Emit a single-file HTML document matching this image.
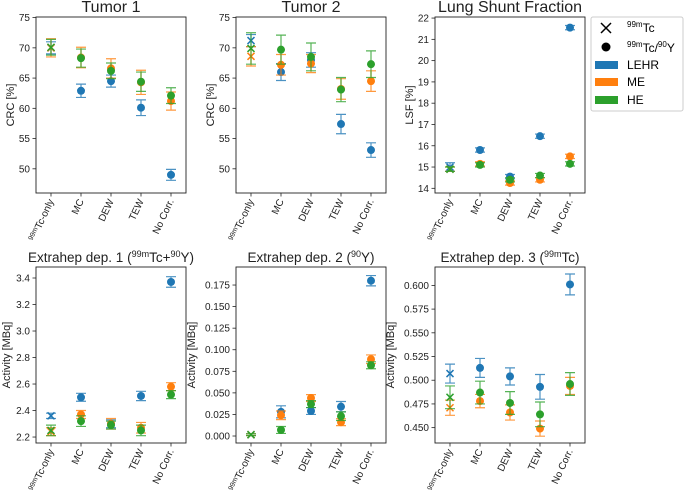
<!DOCTYPE html>
<html><head><meta charset="utf-8">
<style>
body{margin:0;background:#fff;}
svg{font-family:"Liberation Sans","DejaVu Sans",sans-serif;display:block;}
</style></head>
<body>
<svg id="fig" width="685" height="498" viewBox="0 0 685 498" xmlns="http://www.w3.org/2000/svg">
<g id="legend">
  <rect x="591" y="17" width="92" height="94" fill="#fff" stroke="#ccc" rx="2"/>
  <g>
    <path d="M601,23 L611,33 M611,23 L601,33" stroke="#000" stroke-width="1.5"/>
    <text x="627" y="32" font-size="12"><tspan font-size="8" dy="-5">99m</tspan><tspan dy="5">Tc</tspan></text>
  </g>
  <g>
    <circle cx="606" cy="47" r="4.5" fill="#000"/>
    <text x="627" y="52" font-size="12"><tspan font-size="8" dy="-5">99m</tspan><tspan dy="5">Tc/</tspan><tspan font-size="8" dy="-5">90</tspan><tspan dy="5">Y</tspan></text>
  </g>
  <g><rect x="595" y="61" width="23" height="8" fill="#1f77b4"/><text x="627" y="69" font-size="12">LEHR</text></g>
  <g><rect x="595" y="78" width="23" height="8" fill="#ff7f0e"/><text x="627" y="86" font-size="12">ME</text></g>
  <g><rect x="595" y="96" width="23" height="8" fill="#2ca02c"/><text x="627" y="104" font-size="12">HE</text></g>
</g>
</svg>
<script>
const categories = ["99mTc-only","MC","DEW","TEW","No Corr."];
const collimators = ["LEHR","ME","HE"];
// Tumor 1
const t1LEHR=[70.0,62.9,64.5,60.1,49.0], t1LEHRerr=[1.0,1.1,1.0,1.3,0.9];
const t1ME=[70.0,68.4,66.6,64.3,61.2], t1MEerr=[1.5,1.7,1.6,2.0,1.5];
const t1HE=[70.1,68.3,66.2,64.4,62.1], t1HEerr=[1.3,1.5,1.3,1.6,1.3];
// Tumor 2
const t2LEHR=[71.2,66.0,68.0,57.4,53.1], t2LEHRerr=[1.0,1.4,1.2,1.6,1.2];
const t2ME=[68.6,67.2,67.4,63.2,64.5], t2MEerr=[1.6,1.7,1.5,1.7,1.7];
const t2HE=[69.9,69.7,68.5,63.1,67.3], t2HEerr=[2.6,2.4,2.3,2.0,2.2];
// LSF
const lsfLEHR=[15.0,15.8,14.55,16.45,21.55], lsfLEHRerr=[0.2,0.1,0.1,0.1,0.1];
const lsfME=[14.9,15.15,14.25,14.4,15.5], lsfMEerr=[0.1,0.1,0.1,0.1,0.1];
const lsfHE=[14.9,15.1,14.4,14.6,15.15], lsfHEerr=[0.1,0.1,0.1,0.1,0.1];
// Extrahep 1
const e1LEHR=[2.36,2.50,2.30,2.51,3.37], e1LEHRerr=[0.02,0.03,0.03,0.035,0.04];
const e1ME=[2.24,2.37,2.30,2.27,2.58], e1MEerr=[0.03,0.03,0.04,0.04,0.03];
const e1HE=[2.25,2.32,2.29,2.25,2.52], e1HEerr=[0.04,0.04,0.03,0.04,0.03];
// Extrahep 2
const e2LEHR=[0.0015,0.028,0.029,0.034,0.180], e2LEHRerr=[0.001,0.007,0.004,0.006,0.006];
const e2ME=[0.0015,0.024,0.044,0.016,0.089], e2MEerr=[0.001,0.005,0.004,0.004,0.005];
const e2HE=[0.0015,0.007,0.037,0.023,0.082], e2HEerr=[0.001,0.004,0.004,0.005,0.004];
// Extrahep 3
const e3LEHR=[0.507,0.513,0.504,0.493,0.601], e3LEHRerr=[0.010,0.010,0.009,0.013,0.011];
const e3ME=[0.471,0.478,0.466,0.449,0.494], e3MEerr=[0.008,0.007,0.008,0.008,0.009];
const e3HE=[0.482,0.487,0.476,0.464,0.496], e3HEerr=[0.012,0.012,0.012,0.013,0.012];

const t1Ticks=[50,55,60,65,70,75], t2Ticks=[50,55,60,65,70,75];
const lsfTicks=[14,15,16,17,18,19,20,21,22];
const e1Ticks=[2.2,2.4,2.6,2.8,3.0,3.2,3.4];
const e2Ticks=[0,0.025,0.05,0.075,0.1,0.125,0.15,0.175];
const e3Ticks=[0.45,0.475,0.5,0.525,0.55,0.575,0.6];

const NS="http://www.w3.org/2000/svg";
const svg=document.getElementById('fig');
const colors=["#1f77b4","#ff7f0e","#2ca02c"];
function mk(tag,attrs,parent){const e=document.createElementNS(NS,tag);for(const k in attrs)e.setAttribute(k,attrs[k]);parent.appendChild(e);return e;}

const panels=[
 {name:"tumor-1",title:"Tumor 1",x0:36,y0:17,ylab:"CRC [%]",ymin:46.0,ymax:75.1,ticks:t1Ticks,dec:0,series:[[t1LEHR,t1LEHRerr],[t1ME,t1MEerr],[t1HE,t1HEerr]]},
 {name:"tumor-2",title:"Tumor 2",x0:236,y0:17,ylab:"CRC [%]",ymin:46.0,ymax:75.1,ticks:t2Ticks,dec:0,series:[[t2LEHR,t2LEHRerr],[t2ME,t2MEerr],[t2HE,t2HEerr]]},
 {name:"lung-shunt",title:"Lung Shunt Fraction",x0:435,y0:17,ylab:"LSF [%]",ymin:13.78,ymax:22.05,ticks:lsfTicks,dec:0,series:[[lsfLEHR,lsfLEHRerr],[lsfME,lsfMEerr],[lsfHE,lsfHEerr]]},
 {name:"extrahep-1",title:"Extrahep dep. 1",sup:["99m","Tc+","90","Y)"],x0:36,y0:267,ylab:"Activity [MBq]",ymin:2.155,ymax:3.483,ticks:e1Ticks,dec:1,series:[[e1LEHR,e1LEHRerr],[e1ME,e1MEerr],[e1HE,e1HEerr]]},
 {name:"extrahep-2",title:"Extrahep dep. 2",sup:["90","Y)"],x0:236,y0:267,ylab:"Activity [MBq]",ymin:-0.0081,ymax:0.1959,ticks:e2Ticks,dec:3,series:[[e2LEHR,e2LEHRerr],[e2ME,e2MEerr],[e2HE,e2HEerr]]},
 {name:"extrahep-3",title:"Extrahep dep. 3",sup:["99m","Tc)"],x0:435,y0:267,ylab:"Activity [MBq]",ymin:0.4338,ymax:0.6194,ticks:e3Ticks,dec:3,series:[[e3LEHR,e3LEHRerr],[e3ME,e3MEerr],[e3HE,e3HEerr]]}
];
const W=150,H=176;
panels.forEach(p=>{
  const g=mk('g',{},svg);
  
  
  const xs=i=>p.x0+W*(i+0.5)/5;
  const ys=v=>p.y0+H*(p.ymax-v)/(p.ymax-p.ymin);
  // title
  const t=mk('text',{x:p.x0+W/2,y:p.y0-5,'text-anchor':'middle','font-size':p.sup?13.5:16,fill:'#222'},g);
  
  
  if(p.sup){
    t.appendChild(document.createTextNode(p.title+" ("));
    for(let k=0;k<p.sup.length;k+=2){
      mk('tspan',{'font-size':9,dy:-5},t).textContent=p.sup[k];
      mk('tspan',{dy:5},t).textContent=p.sup[k+1];
    }
  } else t.textContent=p.title;
  // y ticks
  p.ticks.forEach(v=>{
    const y=ys(v);
    mk('line',{x1:p.x0-3.5,x2:p.x0,y1:y,y2:y,stroke:'#222','stroke-width':0.8},g);
    const tl=mk('text',{x:p.x0-6,y:y+3.5,'text-anchor':'end','font-size':10,fill:'#222'},g);
    
    
    tl.textContent=v.toFixed(p.dec);
  });
  const yl=mk('text',{transform:`translate(${p.x0- (p.dec>=3?41:p.dec==1?26:22)},${p.y0+H/2}) rotate(-90)`,'text-anchor':'middle','font-size':11,fill:'#222'},g);
  
  
  yl.textContent=p.ylab;
  // x ticks
  categories.forEach((c,i)=>{
    const x=xs(i);
    mk('line',{x1:x,x2:x,y1:p.y0+H,y2:p.y0+H+3.5,stroke:'#222','stroke-width':0.8},g);
    const tl=mk('text',{transform:`translate(${x+3},${p.y0+H+8}) rotate(-65)`,'text-anchor':'end','font-size':10,fill:'#222'},g);
    
    
    if(i===0){mk('tspan',{'font-size':7,dy:-3},tl).textContent="99m";mk('tspan',{dy:3},tl).textContent="Tc-only";}
    else tl.textContent=c;
  });
  // series
  p.series.forEach((s,si)=>{
    const col=colors[si];
    const sg=mk('g',{},g);
    
    
    s[0].forEach((v,i)=>{
      const x=xs(i),y=ys(v),e=s[1][i];
      const y1=ys(v+e),y2=ys(v-e);
      mk('path',{d:`M${x},${y1}V${y2}M${x-5},${y1}H${x+5}M${x-5},${y2}H${x+5}`,stroke:col,'stroke-width':1.2,fill:'none',opacity:0.8},sg);
      let m;
      if(i===0){m=mk('path',{d:`M${x-3.5},${y-3.5}L${x+3.5},${y+3.5}M${x+3.5},${y-3.5}L${x-3.5},${y+3.5}`,stroke:col,'stroke-width':1.5},sg);}
      else{m=mk('circle',{cx:x,cy:y,r:4,fill:col},sg);}
      
      
    });
  });
  const fr=mk('rect',{x:p.x0,y:p.y0,width:W,height:H,fill:'none',stroke:'#222','stroke-width':0.9},g);
  
  
});
</script>
</body></html>
